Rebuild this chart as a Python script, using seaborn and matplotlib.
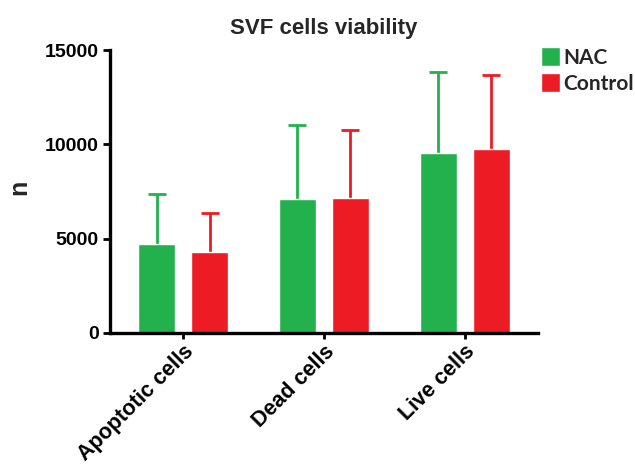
import numpy as np
import pandas as pd
import matplotlib
matplotlib.use("Agg")
import matplotlib.pyplot as plt
import seaborn as sns

# values
categories = ["Apoptotic cells", "Dead cells", "Live cells"]
groups = ["NAC", "Control"]
nac_mean = [4700, 7100, 9560]
nac_sd = [2670, 3920, 4260]
control_mean = [4310, 7170, 9750]
control_sd = [2030, 3590, 3960]
colors = {"NAC": "#23B14D", "Control": "#ED1C24"}

df = pd.DataFrame({
    "cells": categories * 2,
    "group": ["NAC"] * 3 + ["Control"] * 3,
    "n": nac_mean + control_mean,
    "sd": nac_sd + control_sd,
})

sns.set_style("white")
plt.rcParams["font.family"] = ["Liberation Sans", "DejaVu Sans"]
plt.rcParams["font.weight"] = "bold"

fig = plt.figure(figsize=(6.35, 4.65), dpi=100)
ax = fig.add_axes([0.173, 0.284, 0.674, 0.608])

sns.barplot(data=df, x="cells", y="n", hue="group", hue_order=groups,
            order=categories, palette=colors, width=0.752, gap=0.30,
            errorbar=None, saturation=1, ax=ax, legend=True)

# upper error bars only, placed at the bar centres seaborn drew
for container, g in zip(ax.containers[:2], groups):
    sub = df[df["group"] == g].set_index("cells").loc[categories]
    xs = [p.get_x() + p.get_width() / 2 for p in container.patches]
    eb = ax.errorbar(xs, sub["n"], yerr=[np.zeros(len(xs)), sub["sd"]],
                     fmt="none", ecolor=colors[g], elinewidth=2,
                     capsize=6.5, capthick=2, zorder=0.5)
    eb[1][0].set_visible(False)  # drop the cap sitting on the bar top

ax.set_xlim(-0.52, 2.52)
ax.set_ylim(0, 15000)
ax.set_yticks([0, 5000, 10000, 15000])
ax.set_xlabel("")
ax.set_ylabel("n", fontsize=18, fontweight="bold")
ax.yaxis.set_label_coords(-0.183, 0.516)
ax.set_title("SVF cells viability", fontsize=16, fontweight="bold", pad=12)

sns.despine(ax=ax)
for side in ["left", "bottom"]:
    ax.spines[side].set_linewidth(2.4)
    ax.spines[side].set_color("black")
ax.tick_params(axis="both", direction="out", length=5, width=2,
               colors="black", labelsize=14, left=True, bottom=True, pad=3)
ax.tick_params(axis="x", length=4, labelsize=15.5, pad=2)
plt.setp(ax.get_xticklabels(), rotation=45, ha="right",
         rotation_mode="anchor", fontweight="bold")
plt.setp(ax.get_yticklabels(), fontweight="bold")

handles, labels = ax.get_legend_handles_labels()
ax.legend(handles, labels, loc="upper left", bbox_to_anchor=(0.852, 0.898),
          bbox_transform=fig.transFigure, frameon=False,
          handlelength=0.92, handleheight=1.0, handletextpad=0.15,
          labelspacing=0.25, borderpad=0, borderaxespad=0,
          prop={"family": "Lato", "weight": "bold", "size": 15})

fig.savefig("out.png", dpi=100)
